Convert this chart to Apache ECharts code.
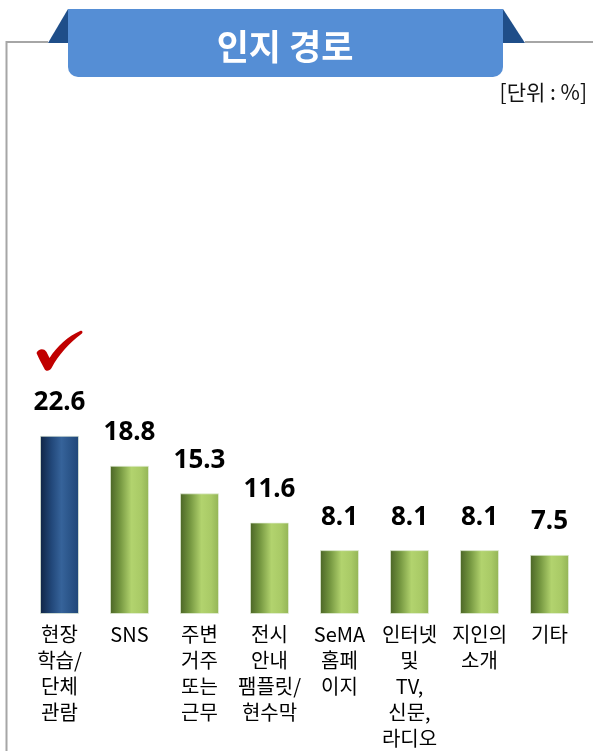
<!DOCTYPE html>
<html>
<head>
<meta charset="utf-8">
<script src="https://cdn.jsdelivr.net/npm/echarts@6/dist/echarts.min.js"></script>
<style>
html,body{margin:0;padding:0;background:#fff;}
#chart{width:593px;height:751px;}
</style>
</head>
<body>
<div id="chart"></div>
<script>
const titleText = '인지 경로';
const unitText = '[단위 : %]';
const categories = ['현장\n학습/\n단체\n관람', 'SNS', '주변\n거주\n또는\n근무', '전시\n안내\n팸플릿/\n현수막', 'SeMA\n홈페\n이지', '인터넷\n및\nTV,\n신문,\n라디오', '지인의\n소개', '기타'];
const values = [22.6, 18.8, 15.3, 11.6, 8.1, 8.1, 8.1, 7.5];
const highlightIndex = 0;

const chart = echarts.init(document.getElementById('chart'), null, {renderer: 'canvas'});

const greenGrad = new echarts.graphic.LinearGradient(0, 0, 1, 0, [
  {offset: 0, color: '#4A6425'},
  {offset: 0.25, color: '#73953F'},
  {offset: 0.55, color: '#B2D36E'},
  {offset: 0.8, color: '#A9CA66'},
  {offset: 1, color: '#93B455'}
]);
const blueGrad = new echarts.graphic.LinearGradient(0, 0, 1, 0, [
  {offset: 0, color: '#0F2444'},
  {offset: 0.3, color: '#22487A'},
  {offset: 0.55, color: '#36639A'},
  {offset: 1, color: '#1F4678'}
]);

const checkPath = 'path://M0,22 C2,18 7,17 10,21 L13,27 C20,16 32,5 44,0 C46,-0.5 46.5,2 45,3 C33,12 22,24 15,37 C13,40.5 9,40.5 8,38 C5,32 2,27 0,22 Z';

const option = {
  animation: false,
  backgroundColor: '#ffffff',
  grid: {left: 24.5, right: 8.5, top: 377.4, bottom: 132, containLabel: false},
  xAxis: {
    type: 'category',
    data: categories,
    axisLine: {show: false},
    axisTick: {show: false},
    axisLabel: {
      interval: 0,
      margin: 7,
      color: '#000',
      fontSize: 20,
      lineHeight: 26,
      fontFamily: '"Noto Sans CJK KR", "Noto Sans", sans-serif',
      verticalAlign: 'top'
    }
  },
  yAxis: {
    type: 'value',
    min: 0,
    max: 30,
    show: false,
    splitLine: {show: false}
  },
  series: [{
    type: 'bar',
    barWidth: 39,
    data: values.map((v, i) => ({
      value: v,
      itemStyle: {color: i === highlightIndex ? blueGrad : greenGrad}
    })),
    itemStyle: {borderColor: 'rgba(230,240,220,0.7)', borderWidth: 1},
    label: {
      show: true,
      position: 'top',
      distance: 20,
      color: '#000',
      fontSize: 26,
      fontWeight: 'bold',
      fontFamily: '"Noto Sans", sans-serif',
      formatter: p => p.value.toFixed(1)
    },
    markPoint: {
      symbol: checkPath,
      symbolSize: [46, 40],
      symbolKeepAspect: false,
      symbolOffset: [0, -85],
      itemStyle: {color: '#C00000'},
      label: {show: false},
      data: [{coord: [categories[highlightIndex], values[highlightIndex]]}]
    }
  }],
  graphic: [
    {type: 'polyline', shape: {points: [[6.5, 751], [6.5, 42], [48, 42]]}, style: {stroke: '#A6A6A6', lineWidth: 2, fill: null}, silent: true},
    {type: 'line', shape: {x1: 525, y1: 42, x2: 593, y2: 42}, style: {stroke: '#A6A6A6', lineWidth: 2}, silent: true},
    {type: 'polygon', shape: {points: [[68, 9], [48, 43], [68, 43]]}, style: {fill: '#1F4E89'}, silent: true},
    {type: 'polygon', shape: {points: [[503, 9], [525, 43], [503, 43]]}, style: {fill: '#1F4E89'}, silent: true},
    {type: 'rect', shape: {x: 68, y: 9, width: 435, height: 68, r: [0, 0, 10, 10]}, style: {fill: '#558ED5'}, silent: true},
    {type: 'text', x: 285, y: 47, style: {text: titleText, fill: '#fff', font: 'bold 35px "Noto Sans CJK KR", sans-serif', textAlign: 'center', textVerticalAlign: 'middle'}, silent: true},
    {type: 'text', x: 587, y: 92, style: {text: unitText, fill: '#111', font: '21px "Noto Sans CJK KR", sans-serif', textAlign: 'right', textVerticalAlign: 'middle'}, silent: true}
  ]
};
chart.setOption(option);
</script>
</body>
</html>
